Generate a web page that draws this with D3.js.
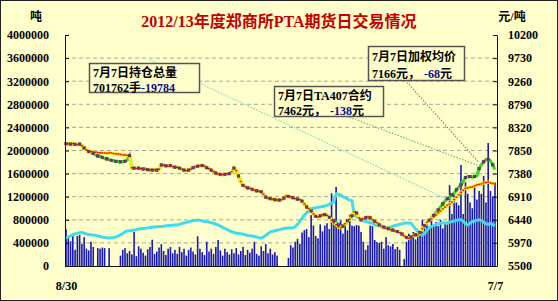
<!DOCTYPE html>
<html><head><meta charset="utf-8">
<script src="https://cdn.jsdelivr.net/npm/d3@7"></script>
<style>
html,body{margin:0;padding:0;background:#fff;}
svg{display:block;}
</style></head><body>
<svg id="c" width="558" height="301"></svg>
<script>
const titleText = "2012/13年度郑商所PTA期货日交易情况";
const leftUnit = "吨";
const rightUnit = "元/吨";
const xLabels = ["8/30", "7/7"];
const leftTicks = [0,400000,800000,1200000,1600000,2000000,2400000,2800000,3200000,3600000,4000000];
const rightTicks = [5500,5970,6440,6910,7380,7850,8320,8790,9260,9730,10200];

// daily volume (吨, left axis)
const volume = [
640000,520000,430000,560000,280000,520000,540000,380000,500000,300000,
270000,420000,330000,0,310000,300000,320000,310000,0,310000,
0,0,0,0,180000,280000,310000,220000,260000,200000,
590000,170000,340000,300000,230000,180000,290000,330000,455000,210000,
250000,320000,380000,260000,190000,300000,330000,220000,280000,210000,
330000,240000,300000,180000,280000,320000,250000,200000,515000,300000,
240000,190000,420000,250000,300000,210000,330000,450000,270000,180000,
300000,240000,200000,290000,220000,310000,200000,260000,330000,190000,
280000,230000,300000,420000,210000,180000,340000,260000,380000,220000,
300000,200000,240000,180000,0,0,0,0,140000,360000,
320000,420000,470000,380000,580000,620000,640000,500000,880000,700000,
520000,480000,720000,600000,700000,740000,640000,1260000,780000,1370000,
650000,790000,560000,700000,620000,880000,700000,690000,710000,700000,
590000,420000,280000,360000,700000,690000,450000,415000,400000,420000,
300000,500000,360000,340000,380000,290000,330000,280000,0,120000,
420000,560000,480000,590000,460000,520000,580000,800000,700000,760000,
680000,820000,720000,760000,690000,800000,650000,760000,720000,1400000,
900000,1230000,1100000,1050000,1750000,900000,1450000,1250000,1100000,1000000,
1400000,1150000,1300000,1250000,1560000,1100000,2130000,1300000,1200000,1450000
];

// total open interest (left axis)
const openInterest = [
485000,500000,520000,540000,560000,565000,575000,580000,570000,555000,
545000,540000,537000,530000,520000,510000,500000,495000,490000,485000,
488000,495000,505000,520000,540000,560000,590000,606000,610000,615000,
623000,630000,640000,645000,650000,655000,660000,665000,670000,675000,
678000,680000,685000,690000,695000,700000,702000,705000,708000,710000,
720000,735000,745000,755000,765000,775000,785000,790000,795000,790000,
780000,770000,765000,760000,750000,740000,725000,710000,690000,670000,
650000,630000,610000,595000,580000,570000,565000,560000,550000,540000,
530000,525000,520000,510000,500000,490000,485000,500000,530000,560000,
590000,600000,610000,620000,630000,640000,650000,655000,660000,662000,
660000,680000,720000,770000,830000,880000,920000,960000,990000,1000000,
1010000,1015000,1020000,1030000,1040000,1050000,1070000,1090000,1110000,1250000,
1240000,1230000,1200000,1180000,1160000,1140000,1130000,880000,860000,830000,
800000,780000,770000,760000,750000,740000,720000,700000,690000,680000,
670000,665000,660000,670000,690000,700000,710000,720000,730000,740000,
745000,745000,740000,690000,640000,600000,560000,535000,560000,620000,
660000,680000,700000,720000,730000,740000,745000,750000,745000,760000,
770000,780000,790000,800000,800000,780000,730000,710000,740000,770000,
780000,790000,800000,790000,760000,730000,720000,740000,715000,701762
];

// TA407 contract price (元/吨, right axis)
const priceTA407 = [
7990,7985,7980,7990,7975,7970,7980,7950,7900,7860,
7830,7810,7790,7760,7740,7725,7710,7690,7680,7660,
7650,7640,7630,7625,7620,7625,7630,7660,7745,7500,
7490,7485,7490,7480,7475,7470,7460,7455,7450,7455,
7450,7470,7555,7550,7540,7530,7545,7520,7510,7505,
7490,7470,7450,7440,7450,7470,7500,7520,7530,7540,
7545,7530,7500,7480,7450,7420,7390,7370,7365,7360,
7365,7370,7380,7420,7490,7440,7330,7220,7140,7110,
7090,7080,7060,7040,7030,7020,7010,6960,6900,6880,
6870,6860,6850,6845,6840,6850,6880,6920,6915,6905,
6890,6870,6860,6850,6820,6760,6700,6670,6620,6560,
6510,6500,6520,6540,6545,6530,6490,6460,6420,6390,
6340,6300,6310,6360,6420,6450,6520,6600,6580,6480,
6440,6460,6480,6500,6480,6440,6410,6380,6340,6310,
6290,6270,6260,6240,6230,6210,6200,6180,6150,6110,
6080,6064,6090,6120,6135,6130,6180,6260,6320,6390,
6430,6480,6530,6580,6640,6700,6760,6820,6870,6900,
6950,6980,7050,7100,7148,7220,7300,7320,7320,7310,
7320,7340,7480,7560,7620,7660,7670,7640,7560,7462
];

// weighted average price (元/吨, right axis)
const weightedAvg = [
7990,7985,7980,7990,7975,7970,7980,7950,7900,7860,
7840,7830,7825,7815,7810,7805,7800,7800,7795,7800,
7800,7790,7780,7780,7770,7760,7760,7750,7745,7500,
7490,7485,7490,7480,7475,7470,7460,7455,7450,7455,
7450,7470,7555,7550,7540,7530,7545,7520,7510,7505,
7490,7470,7450,7440,7450,7470,7500,7520,7530,7540,
7545,7530,7500,7480,7450,7420,7390,7370,7365,7360,
7365,7370,7380,7420,7490,7440,7330,7220,7140,7110,
7090,7080,7060,7040,7030,7020,7010,6960,6900,6880,
6870,6860,6850,6845,6840,6850,6880,6920,6915,6905,
6890,6870,6860,6850,6820,6760,6700,6670,6620,6560,
6510,6500,6520,6540,6545,6530,6490,6430,6380,6340,
6300,6280,6300,6360,6420,6450,6520,6600,6580,6480,
6440,6460,6480,6500,6480,6440,6410,6380,6340,6310,
6290,6270,6260,6240,6230,6210,6200,6180,6150,6110,
6080,6064,6090,6120,6135,6130,6180,6260,6320,6390,
6420,6460,6500,6540,6580,6620,6660,6700,6740,6760,
6800,6850,6900,6950,7000,7040,7080,7090,7100,7110,
7130,7150,7160,7170,7190,7200,7210,7190,7180,7166
];

const noteTitles = ["7月7日持仓总量", "7月7日TA407合约", "7月7日加权均价"];
const noteValues = ["701762手", "7462元，", "7166元，"];
const noteChanges = ["-19784", "-138", "-68"];
const noteChangeUnits = ["", "元", "元"];

const N = volume.length;
const W = 558, H = 301;
const svg = d3.select("#c");
const BG = "#FFFFCC";

svg.append("rect").attr("x",0.5).attr("y",0.5).attr("width",W-1).attr("height",H-1)
  .attr("fill",BG).attr("stroke","#222").attr("stroke-width",1);

const plot = {l:65, r:497, t:35, b:266};
const x = d3.scalePoint().domain(d3.range(N)).range([plot.l+1, plot.r-2]);
const yL = d3.scaleLinear().domain([0,4000000]).range([plot.b, plot.t]);
const yR = d3.scaleLinear().domain([5500,10200]).range([plot.b, plot.t]);

const serif = "'Liberation Serif','Times New Roman',serif";
const cjk = "'Liberation Serif','Noto Sans CJK SC',serif";

// grid
svg.append("g").selectAll("line").data(leftTicks.filter(v=>v>0 && v<4000000)).join("line")
  .attr("x1",plot.l).attr("x2",plot.r).attr("y1",d=>yL(d)).attr("y2",d=>yL(d))
  .attr("stroke","#a8a89a").attr("stroke-width",1).attr("stroke-dasharray","4,3");

// bars
svg.append("g").selectAll("rect").data(volume).join("rect")
  .attr("x",(d,i)=>x(i)-0.8).attr("width",1.6)
  .attr("y",d=>yL(d)).attr("height",d=>plot.b-yL(d))
  .attr("fill","#1818bc");

// open interest
svg.append("path").datum(openInterest)
  .attr("d", d3.line().x((d,i)=>x(i)).y(d=>yL(d)))
  .attr("fill","none").attr("stroke","#3ddcf0").attr("stroke-width",3).attr("stroke-linejoin","round");

// leader lines (drawn under boxes)
const lastI = N-1;
svg.append("line").attr("x1",150).attr("x2",455).attr("y1",60).attr("y2",203)
  .attr("stroke","#7fd6c8").attr("stroke-width",1.2).attr("stroke-dasharray","1.5,1.5");
svg.append("line").attr("x1",330).attr("x2",x(lastI-6)).attr("y1",110).attr("y2",yR(priceTA407[lastI-6])+2)
  .attr("stroke","#66c266").attr("stroke-width",1.2).attr("stroke-dasharray","1.5,1.5");
svg.append("line").attr("x1",405).attr("x2",x(lastI-7)).attr("y1",80).attr("y2",yR(priceTA407[lastI-7])-6)
  .attr("stroke","#e0644a").attr("stroke-width",1.2).attr("stroke-dasharray","1.5,1.5");

// price lines
const lineR = d3.line().x((d,i)=>x(i)).y(d=>yR(d));
svg.append("path").datum(priceTA407).attr("d",lineR)
  .attr("fill","none").attr("stroke","#33dd22").attr("stroke-width",3.2);
svg.append("path").datum(weightedAvg).attr("d",lineR)
  .attr("fill","none").attr("stroke","#ffee00").attr("stroke-width",3.2);
svg.append("g").selectAll("rect").data(weightedAvg).join("rect")
  .attr("x",(d,i)=>x(i)-1).attr("y",d=>yR(d)-0.7).attr("width",2).attr("height",1.4)
  .attr("fill","#ee1100");
svg.append("g").selectAll("rect").data(priceTA407).join("rect")
  .filter((d,i)=>i%2===0)
  .attr("x",(d,i)=>x(i*2)-1.3).attr("y",d=>yR(d)-1.3).attr("width",2.6).attr("height",2.6)
  .attr("fill","#8a2a88").attr("stroke","#4a1048").attr("stroke-width",0.4);

// axes
const fmt = d3.format("d");
const gL = svg.append("g").attr("transform",`translate(${plot.l},0)`)
  .call(d3.axisLeft(yL).tickValues(leftTicks).tickFormat(fmt).tickSizeInner(-4).tickSizeOuter(0).tickPadding(16));
const gR = svg.append("g").attr("transform",`translate(${plot.r},0)`)
  .call(d3.axisRight(yR).tickValues(rightTicks).tickFormat(fmt).tickSizeInner(-4).tickSizeOuter(0).tickPadding(11));
const gB = svg.append("g").attr("transform",`translate(0,${plot.b})`)
  .call(d3.axisBottom(x).tickValues([0, N-1]).tickFormat((d,i)=>xLabels[i]).tickSize(0).tickPadding(15));
gB.select(".domain").attr("d",`M${plot.l},0.5H${plot.r}`);
[gL,gR,gB].forEach(g=>{
  g.selectAll(".domain").attr("stroke","#111").attr("stroke-width",1);
  g.selectAll(".tick line").attr("stroke","#111");
  g.selectAll("text").attr("font-family",serif).attr("font-weight","bold").attr("font-size",12).attr("fill","#000");
});

// title & units
svg.append("text").attr("x",279).attr("y",27).attr("text-anchor","middle")
  .attr("font-family",cjk).attr("font-weight","bold").attr("font-size",16)
  .attr("fill","#c40000").text(titleText);
svg.append("text").attr("x",36).attr("y",21).attr("text-anchor","middle")
  .attr("font-family",cjk).attr("font-weight","bold").attr("font-size",12).text(leftUnit);
svg.append("text").attr("x",512).attr("y",21).attr("text-anchor","middle")
  .attr("font-family",cjk).attr("font-weight","bold").attr("font-size",12).text(rightUnit);

// annotation boxes
const boxes = [
  {x:89, y:63, w:110, h:29, l1:73, l2:88},
  {x:274, y:86, w:109, h:30, l1:96, l2:111},
  {x:368, y:46, w:96, h:34, l1:57, l2:74}
];
boxes.forEach((b,k)=>{
  svg.append("rect").attr("x",b.x+0.5).attr("y",b.y+0.5).attr("width",b.w).attr("height",b.h)
    .attr("fill",BG).attr("stroke","#555").attr("stroke-width",1.5);
  svg.append("text").attr("x",b.x+4).attr("y",b.l1+4)
    .attr("font-family",cjk).attr("font-weight","bold").attr("font-size",12).attr("fill","#000")
    .text(noteTitles[k]);
  const t = svg.append("text").attr("x",b.x+4).attr("y",b.l2+4)
    .attr("font-family",cjk).attr("font-weight","bold").attr("font-size",12).attr("fill","#000");
  t.append("tspan").text(noteValues[k]);
  t.append("tspan").attr("fill","#0a0a8a").attr("dx", k===0?0:4).text(noteChanges[k]);
  t.append("tspan").attr("fill","#000").text(noteChangeUnits[k]);
});
</script>
</body></html>
